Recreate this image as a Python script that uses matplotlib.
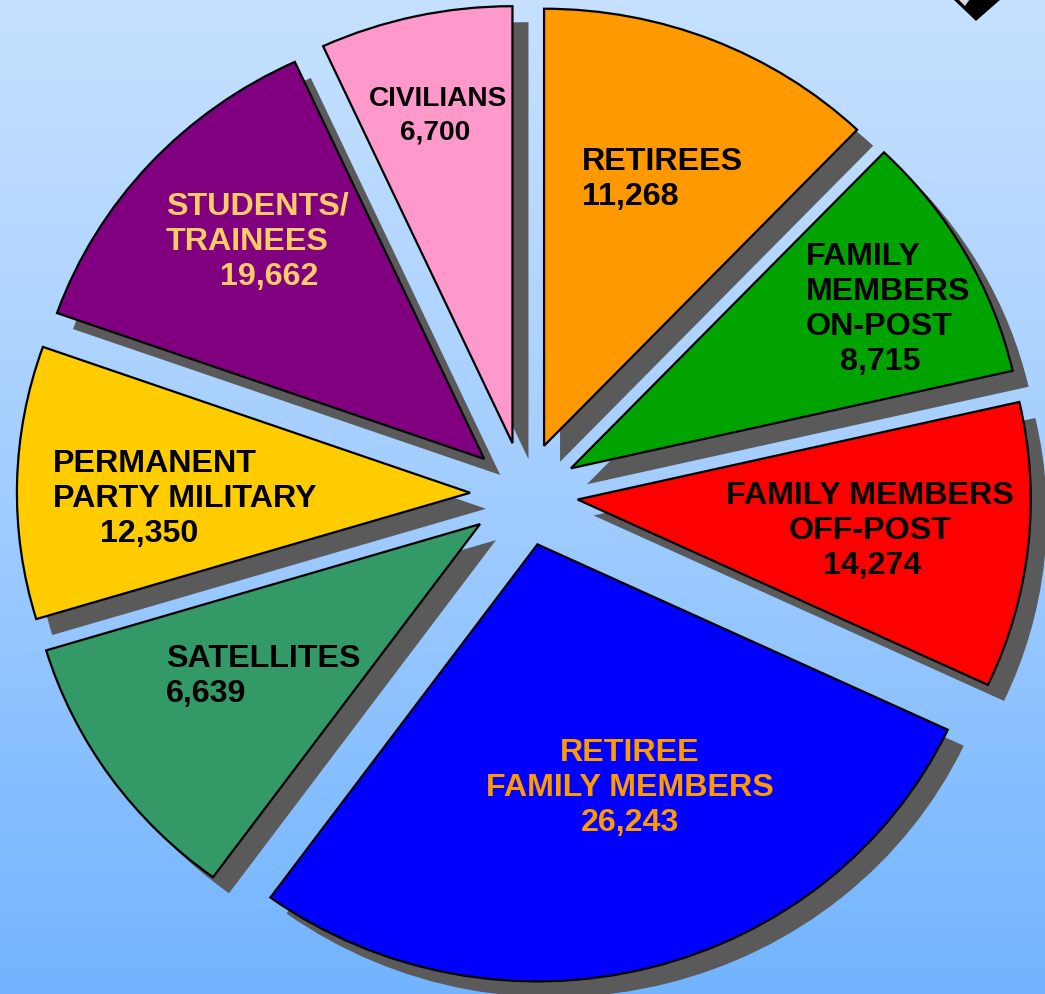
import numpy as np
import matplotlib
matplotlib.use("Agg")
import matplotlib.pyplot as plt
from matplotlib.colors import LinearSegmentedColormap
from matplotlib.patches import Polygon

# ---- data (clockwise from 12 o'clock) ----
categories = ["RETIREES", "FAMILY\nMEMBERS\nON-POST", "FAMILY MEMBERS\nOFF-POST",
              "RETIREE\nFAMILY MEMBERS", "SATELLITES", "PERMANENT\nPARTY MILITARY",
              "STUDENTS/\nTRAINEES", "CIVILIANS"]
counts = [11268, 8715, 14274, 26243, 6639, 12350, 19662, 6700]
# angular share of each drawn slice, in degrees
slice_degrees = [43.7, 33.4, 38.0, 101.0, 37.1, 36.3, 45.8, 24.7]
colors = ["#ff9900", "#00a300", "#ff0000", "#0000ff", "#339966", "#ffcc00", "#800080", "#ff99cc"]
text_colors = ["black", "black", "black", "#ff9900", "black", "black", "#ffcc66", "black"]

W, H = 1045, 995
K = 1.037  # horizontal stretch of the (slightly elliptical) pie
fig = plt.figure(figsize=(W / 100, H / 100), dpi=100)
ax = fig.add_axes([0, 0, 1, 1])

def X(px):
    return px / K

def Y(py):
    return H - py

# background gradient
bg = LinearSegmentedColormap.from_list("bg", ["#c6e1ff", "#a2cdff", "#72b4ff"])
ax.imshow(np.linspace(0, 1, 256).reshape(-1, 1), extent=[0, X(W), 0, H],
          cmap=bg, aspect="auto", zorder=0, origin="upper")

cx, cy, R, expl = X(524), Y(495), 437, 52
sh = 16
n = len(slice_degrees)
w_sh, _ = ax.pie(slice_degrees, startangle=90, counterclock=False, radius=R,
                 center=(cx + X(sh), cy - sh), explode=[expl] * n,
                 colors=["#5a5a5a"] * n, wedgeprops=dict(linewidth=0), frame=True)
for w in w_sh:
    w.set_zorder(1)
w_main, _ = ax.pie(slice_degrees, startangle=90, counterclock=False, radius=R,
                   center=(cx, cy), explode=[expl] * n, colors=colors,
                   wedgeprops=dict(edgecolor="black", linewidth=1.6), frame=True)
for w in w_main:
    w.set_zorder(2)

# label layout: name x, first-line top y, ha, number x, fontsize
fs = 23.2
pitch = 35
layout = [
    (582, 147, "left", 582, fs),
    (806, 242, "left", 840, fs),
    (870, 481, "center", 872, fs),
    (630, 738, "center", 630, fs),
    (166, 644, "left", 166, fs),
    (53, 449, "left", 100, fs),
    (166, 192, "left", 220, fs),
    (438, 86, "center", 435, 20.2),
]
for name, cnt, tc, (nx, ny, ha, vx, f) in zip(categories, counts, text_colors, layout):
    lines = name.split("\n") + [f"{cnt:,}"]
    p = pitch if f == fs else 34
    for i, ln in enumerate(lines):
        x = vx if i == len(lines) - 1 else nx
        ax.text(X(x), Y(ny + i * p), ln, ha=ha, va="top", color=tc, fontsize=f,
                family="Liberation Sans", weight="bold", zorder=5)

# partial icon at top-right corner
ax.add_patch(Polygon([(X(954), Y(0)), (X(1000), Y(0)), (X(976), Y(21))], closed=True,
                     facecolor="black", edgecolor="black", zorder=3))
ax.add_patch(Polygon([(X(958), Y(0)), (X(970), Y(0)), (X(965), Y(7))], closed=True,
                     facecolor="#d8d8d8", edgecolor="none", zorder=4))

ax.set_xlim(0, X(W))
ax.set_ylim(0, H)
ax.set_aspect("auto")
ax.axis("off")
fig.savefig("out.png", dpi=100)
